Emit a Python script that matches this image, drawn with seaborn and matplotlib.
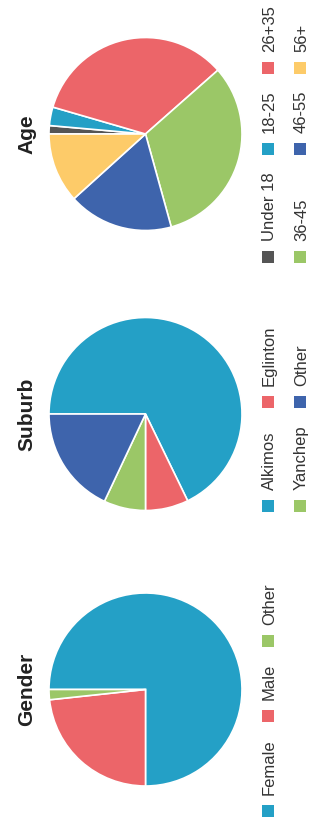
import math
import matplotlib
matplotlib.use("Agg")
import matplotlib.pyplot as plt
import matplotlib.patches as mpatches
import seaborn as sns

# Values (shares, in %)
gender_labels = ["Female", "Male", "Other"]
gender_values = [75.0, 23.3, 1.7]

suburb_labels = ["Alkimos", "Eglinton", "Yanchep", "Other"]
suburb_values = [67.8, 7.2, 7.0, 18.0]

age_labels = ["Under 18", "18-25", "26+35", "36-45", "46-55", "56+"]
age_values = [1.4, 3.1, 34.0, 32.2, 17.6, 11.7]

# Colours
BLUE = "#24a0c6"
RED = "#ec6569"
GREEN = "#9bc767"
NAVY = "#3e64ac"
YELLOW = "#fdcb69"
GREY = "#555555"

gender_colors = [BLUE, RED, GREEN]
suburb_colors = [BLUE, RED, GREEN, NAVY]
age_colors = [GREY, BLUE, RED, GREEN, NAVY, YELLOW]

# Figure is drawn already turned a quarter turn (text reads bottom to top)
W, H = 310, 822
PIE_X, PIE_R = 145.5, 96.5
TITLE_X = 32
LEG_X, ROW_GAP = 274, 32
BOX, BOX_PAD, ITEM_GAP = 12, 10, 17

sns.set_theme(style="white")
plt.rcParams['font.family'] = ['Liberation Sans', 'DejaVu Sans']

fig = plt.figure(figsize=(W / 100, H / 100), dpi=100)
renderer = fig.canvas.get_renderer()


def fx(x):
    return x / W


def fy(y):
    return 1 - y / H


def draw_block(title, labels, values, colors, cy, ncol, legend_start):
    ax = fig.add_axes([fx(PIE_X - PIE_R), fy(cy + PIE_R), 2 * PIE_R / W, 2 * PIE_R / H])
    ax.pie(values, colors=colors, startangle=180, counterclock=False,
           wedgeprops=dict(edgecolor="white", linewidth=1.2))
    ax.set_xlim(-1, 1)
    ax.set_ylim(-1, 1)
    ax.set_aspect("equal")
    ax.axis("off")

    fig.text(fx(TITLE_X), fy(cy), title, rotation=90, rotation_mode="anchor",
             ha="center", va="baseline", fontsize=15, fontweight="bold", color="#222222")

    # legend, laid out by hand so it can be rotated
    texts = [fig.text(0, 0, lab, rotation=90, rotation_mode="anchor", ha="left",
                      va="baseline", fontsize=12, color="#333333") for lab in labels]
    n = len(labels)
    nrow = math.ceil(n / ncol)
    col_w = [max(texts[i].get_window_extent(renderer).height for i in range(c, n, ncol))
             for c in range(ncol)]
    y = legend_start
    for c in range(ncol):
        for r in range(nrow):
            i = r * ncol + c
            if i >= n:
                continue
            bx = LEG_X + ROW_GAP * r
            fig.add_artist(mpatches.Rectangle((fx(bx - BOX), fy(y)), BOX / W, BOX / H,
                                              transform=fig.transFigure,
                                              facecolor=colors[i], edgecolor="none"))
            texts[i].set_position((fx(bx), fy(y - BOX - BOX_PAD)))
        y -= BOX + BOX_PAD + col_w[c] + ITEM_GAP


draw_block("Age", age_labels, age_values, age_colors, 134, 3, 263)
draw_block("Suburb", suburb_labels, suburb_values, suburb_colors, 414, 2, 512)
draw_block("Gender", gender_labels, gender_values, gender_colors, 689.5, 3, 817)

fig.savefig("out.png", dpi=100, facecolor="white")
